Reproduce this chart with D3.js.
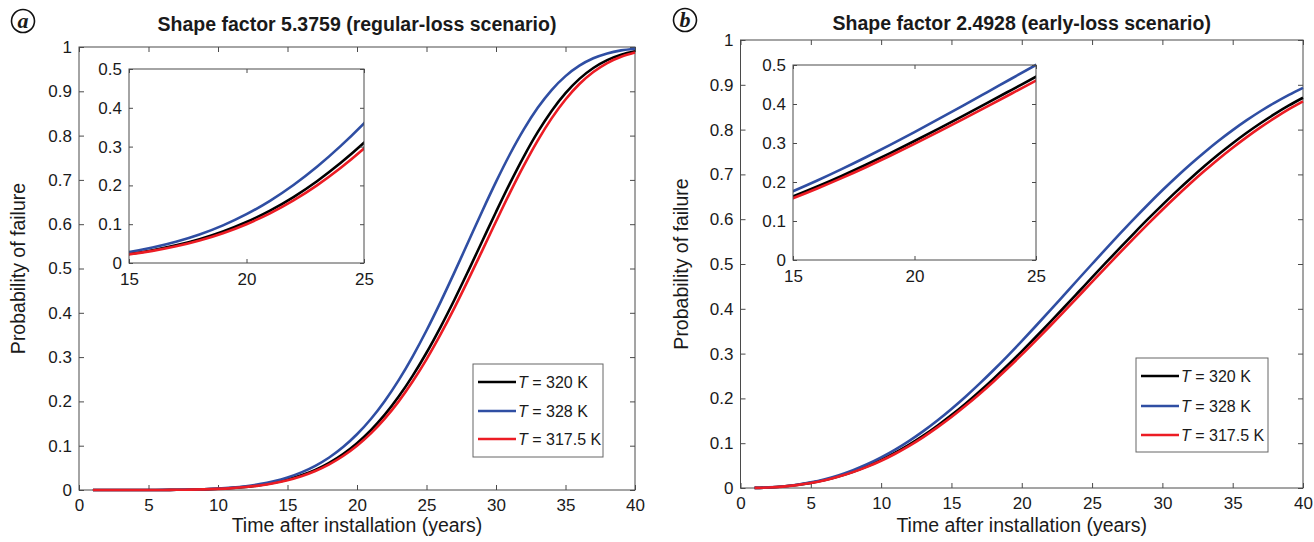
<!DOCTYPE html>
<html lang="en">
<head>
<meta charset="UTF-8">
<title>Probability of failure</title>
<script src="https://d3js.org/d3.v7.min.js"></script>
<style>
  body { margin: 0; background: #fff; }
  svg text { font-family: "Liberation Sans", Arial, sans-serif; fill: #1a1a1a; }
</style>
</head>
<body>
<svg width="1314" height="542"></svg>
<script>
// years after installation (x of every point)
const years = [1, 2, 3, 4, 5, 6, 7, 8, 9, 10, 11, 12, 13, 14, 15, 16, 17, 18, 19, 20,
  21, 22, 23, 24, 25, 26, 27, 28, 29, 30, 31, 32, 33, 34, 35, 36, 37, 38, 39, 40];

// (a) shape factor 5.3759
const aT320 = [0, 0, 0, 0.00002, 0.00007, 0.00017, 0.0004, 0.0008, 0.0015, 0.0027,
  0.0045, 0.0071, 0.0110, 0.0163, 0.0235, 0.0331, 0.0455, 0.0614, 0.0813, 0.1057,
  0.1351, 0.1700, 0.2108, 0.2575, 0.3098, 0.3673, 0.4290, 0.4942, 0.5610, 0.6276,
  0.6922, 0.7527, 0.8077, 0.8557, 0.8958, 0.9281, 0.9526, 0.9704, 0.9826, 0.9903];
const aT328 = [0, 0, 0, 0.00002, 0.00008, 0.0002, 0.0005, 0.001, 0.0018, 0.0032,
  0.0054, 0.0086, 0.0132, 0.0196, 0.0282, 0.0397, 0.0546, 0.0734, 0.0970, 0.1258,
  0.1603, 0.2010, 0.2480, 0.3012, 0.3600, 0.4236, 0.4907, 0.5598, 0.6288, 0.6955,
  0.7579, 0.8140, 0.8626, 0.9028, 0.9343, 0.9579, 0.9746, 0.9856, 0.9924, 0.9962];
const aT3175 = [0, 0, 0, 0.00002, 0.00006, 0.00016, 0.0004, 0.0008, 0.0014, 0.0025,
  0.0042, 0.0067, 0.0103, 0.0154, 0.0222, 0.0312, 0.0430, 0.0580, 0.0768, 0.1000,
  0.1279, 0.1612, 0.2001, 0.2448, 0.2950, 0.3506, 0.4105, 0.4742, 0.5399, 0.6060,
  0.6708, 0.7322, 0.7888, 0.8389, 0.8815, 0.9164, 0.9436, 0.9638, 0.9780, 0.9874];

// (b) shape factor 2.4928
const bT320 = [0.0002, 0.0012, 0.0032, 0.0066, 0.0114, 0.0179, 0.0262, 0.0364, 0.0485, 0.0626,
  0.0787, 0.0968, 0.1169, 0.1390, 0.1628, 0.1883, 0.2155, 0.2442, 0.2740, 0.3051,
  0.3370, 0.3697, 0.4029, 0.4364, 0.4700, 0.5034, 0.5365, 0.5691, 0.6011, 0.6321,
  0.6622, 0.6910, 0.7187, 0.7450, 0.7697, 0.7930, 0.8148, 0.8351, 0.8539, 0.8711];
const bT328 = [0.0002, 0.0013, 0.0035, 0.0072, 0.0125, 0.0196, 0.0286, 0.0397, 0.0529, 0.0682,
  0.0856, 0.1052, 0.1270, 0.1507, 0.1764, 0.2038, 0.2329, 0.2634, 0.2951, 0.3279,
  0.3616, 0.3959, 0.4306, 0.4654, 0.5000, 0.5344, 0.5682, 0.6013, 0.6334, 0.6645,
  0.6943, 0.7227, 0.7496, 0.7751, 0.7988, 0.8210, 0.8415, 0.8603, 0.8776, 0.8933];
const bT3175 = [0.0002, 0.0011, 0.0031, 0.0064, 0.0111, 0.0174, 0.0255, 0.0354, 0.0471, 0.0608,
  0.0765, 0.0941, 0.1137, 0.1352, 0.1584, 0.1834, 0.2099, 0.2379, 0.2672, 0.2976,
  0.3290, 0.3611, 0.3938, 0.4269, 0.4601, 0.4931, 0.5260, 0.5584, 0.5902, 0.6212,
  0.6513, 0.6803, 0.7080, 0.7346, 0.7596, 0.7833, 0.8055, 0.8262, 0.8455, 0.8631];

const seriesLabels = ["320 K", "328 K", "317.5 K"];
const seriesColors = ["#000000", "#2f4ea3", "#ec1c24"];

const xTicks = [0, 5, 10, 15, 20, 25, 30, 35, 40];
const yTicks = [0, 0.1, 0.2, 0.3, 0.4, 0.5, 0.6, 0.7, 0.8, 0.9, 1];
const insetXTicks = [15, 20, 25];
const insetYTicks = [0, 0.1, 0.2, 0.3, 0.4, 0.5];

const axisColor = "#4a4a4a";
const fmt = d3.format("~g");
const svg = d3.select("svg");

const panels = [
  { letter: "a", title: "Shape factor 5.3759 (regular-loss scenario)", data: [aT320, aT328, aT3175],
    left: 79, right: 635, top: 47, bottom: 490, titleY: 31, letterX: 23, letterY: 21, ylabX: 25,
    inset: { left: 129, right: 364, top: 69, bottom: 263 },
    legend: { left: 473, top: 364, w: 130, h: 93, rows: [18, 47, 75] } },
  { letter: "b", title: "Shape factor 2.4928 (early-loss scenario)", data: [bT320, bT328, bT3175],
    left: 740.5, right: 1303, top: 40, bottom: 488, titleY: 30, letterX: 685, letterY: 20, ylabX: 688,
    inset: { left: 793, right: 1036, top: 65, bottom: 260 },
    legend: { left: 1136, top: 358, w: 132, h: 94, rows: [18, 48, 77] } }
];

function styleAxis(sel, size) {
  sel.select(".domain").remove();
  sel.attr("color", axisColor).attr("font-size", size).attr("font-family", null);
}

function drawAxes(g, x, y, box, xt, yt, len, pad) {
  g.append("g").attr("transform", `translate(0,${box.bottom})`)
    .call(d3.axisBottom(x).tickValues(xt).tickSizeInner(-len).tickSizeOuter(0).tickPadding(pad).tickFormat(fmt))
    .call(s => styleAxis(s, 17));
  g.append("g").attr("transform", `translate(0,${box.top})`)
    .call(d3.axisTop(x).tickValues(xt).tickSizeInner(-len).tickSizeOuter(0).tickFormat(""))
    .call(s => styleAxis(s, 17));
  g.append("g").attr("transform", `translate(${box.left},0)`)
    .call(d3.axisLeft(y).tickValues(yt).tickSizeInner(-len).tickSizeOuter(0).tickPadding(7).tickFormat(fmt))
    .call(s => styleAxis(s, 17));
  g.append("g").attr("transform", `translate(${box.right},0)`)
    .call(d3.axisRight(y).tickValues(yt).tickSizeInner(-len).tickSizeOuter(0).tickFormat(""))
    .call(s => styleAxis(s, 17));
  g.append("rect")
    .attr("x", box.left).attr("y", box.top)
    .attr("width", box.right - box.left).attr("height", box.bottom - box.top)
    .attr("fill", "none").attr("stroke", axisColor).attr("stroke-width", 1);
}

panels.forEach((p, pi) => {
  const g = svg.append("g");
  const x = d3.scaleLinear().domain([0, 40]).range([p.left, p.right]);
  const y = d3.scaleLinear().domain([0, 1]).range([p.bottom, p.top]);

  drawAxes(g, x, y, p, xTicks, yTicks, 5, 9);

  const line = d3.line().x(d => x(d[0])).y(d => y(d[1])).curve(d3.curveMonotoneX);
  p.data.forEach((vals, i) => {
    g.append("path")
      .datum(years.map((t, k) => [t, vals[k]]))
      .attr("d", line)
      .attr("fill", "none")
      .attr("stroke", seriesColors[i])
      .attr("stroke-width", 2.6);
  });

  // inset zoom 15-25 years
  const ib = p.inset;
  g.append("rect").attr("x", ib.left).attr("y", ib.top)
    .attr("width", ib.right - ib.left).attr("height", ib.bottom - ib.top).attr("fill", "#fff");
  const ix = d3.scaleLinear().domain([15, 25]).range([ib.left, ib.right]);
  const iy = d3.scaleLinear().domain([0, 0.5]).range([ib.bottom, ib.top]);
  const clipId = "clip" + pi;
  svg.append("clipPath").attr("id", clipId).append("rect")
    .attr("x", ib.left).attr("y", ib.top - 2)
    .attr("width", ib.right - ib.left).attr("height", ib.bottom - ib.top + 2);
  const iline = d3.line().x(d => ix(d[0])).y(d => iy(d[1])).curve(d3.curveMonotoneX);
  p.data.forEach((vals, i) => {
    g.append("path")
      .datum(years.map((t, k) => [t, vals[k]]).filter(d => d[0] >= 14 && d[0] <= 26))
      .attr("d", iline)
      .attr("clip-path", `url(#${clipId})`)
      .attr("fill", "none")
      .attr("stroke", seriesColors[i])
      .attr("stroke-width", 2.6);
  });
  drawAxes(g, ix, iy, ib, insetXTicks, insetYTicks, 4, 10);

  // legend
  const lg = p.legend;
  const leg = g.append("g").attr("transform", `translate(${lg.left},${lg.top})`);
  leg.append("rect").attr("width", lg.w).attr("height", lg.h)
    .attr("fill", "#fff").attr("stroke", "#666").attr("stroke-width", 1);
  seriesLabels.forEach((lab, i) => {
    const ry = lg.rows[i];
    leg.append("line").attr("x1", 5).attr("x2", 43).attr("y1", ry).attr("y2", ry)
      .attr("stroke", seriesColors[i]).attr("stroke-width", 2.6);
    const t = leg.append("text")
      .attr("x", 45).attr("y", ry + 6).attr("font-size", 16);
    t.append("tspan").attr("font-style", "italic").text("T");
    t.append("tspan").text(" = " + lab);
  });

  // titles and labels
  g.append("text")
    .attr("x", (p.left + p.right) / 2).attr("y", p.titleY)
    .attr("text-anchor", "middle").attr("font-size", 19.5).attr("font-weight", "bold")
    .text(p.title);
  g.append("text")
    .attr("x", (p.left + p.right) / 2).attr("y", 532)
    .attr("text-anchor", "middle").attr("font-size", 19.5)
    .text("Time after installation (years)");
  g.append("text")
    .attr("transform", `translate(${p.ylabX},${(p.top + p.bottom) / 2}) rotate(-90)`)
    .attr("text-anchor", "middle").attr("font-size", 19.5)
    .text("Probability of failure");

  // circled panel letter
  g.append("circle").attr("cx", p.letterX).attr("cy", p.letterY).attr("r", 11.5)
    .attr("fill", "none").attr("stroke", "#111").attr("stroke-width", 1.6);
  g.append("text").attr("x", p.letterX).attr("y", p.letterY + 6.5)
    .attr("text-anchor", "middle")
    .style("font-family", "'Liberation Serif', 'DejaVu Serif', serif")
    .style("font-style", "italic").style("font-weight", "bold").attr("font-size", 22)
    .text(p.letter);
});
</script>
</body>
</html>
